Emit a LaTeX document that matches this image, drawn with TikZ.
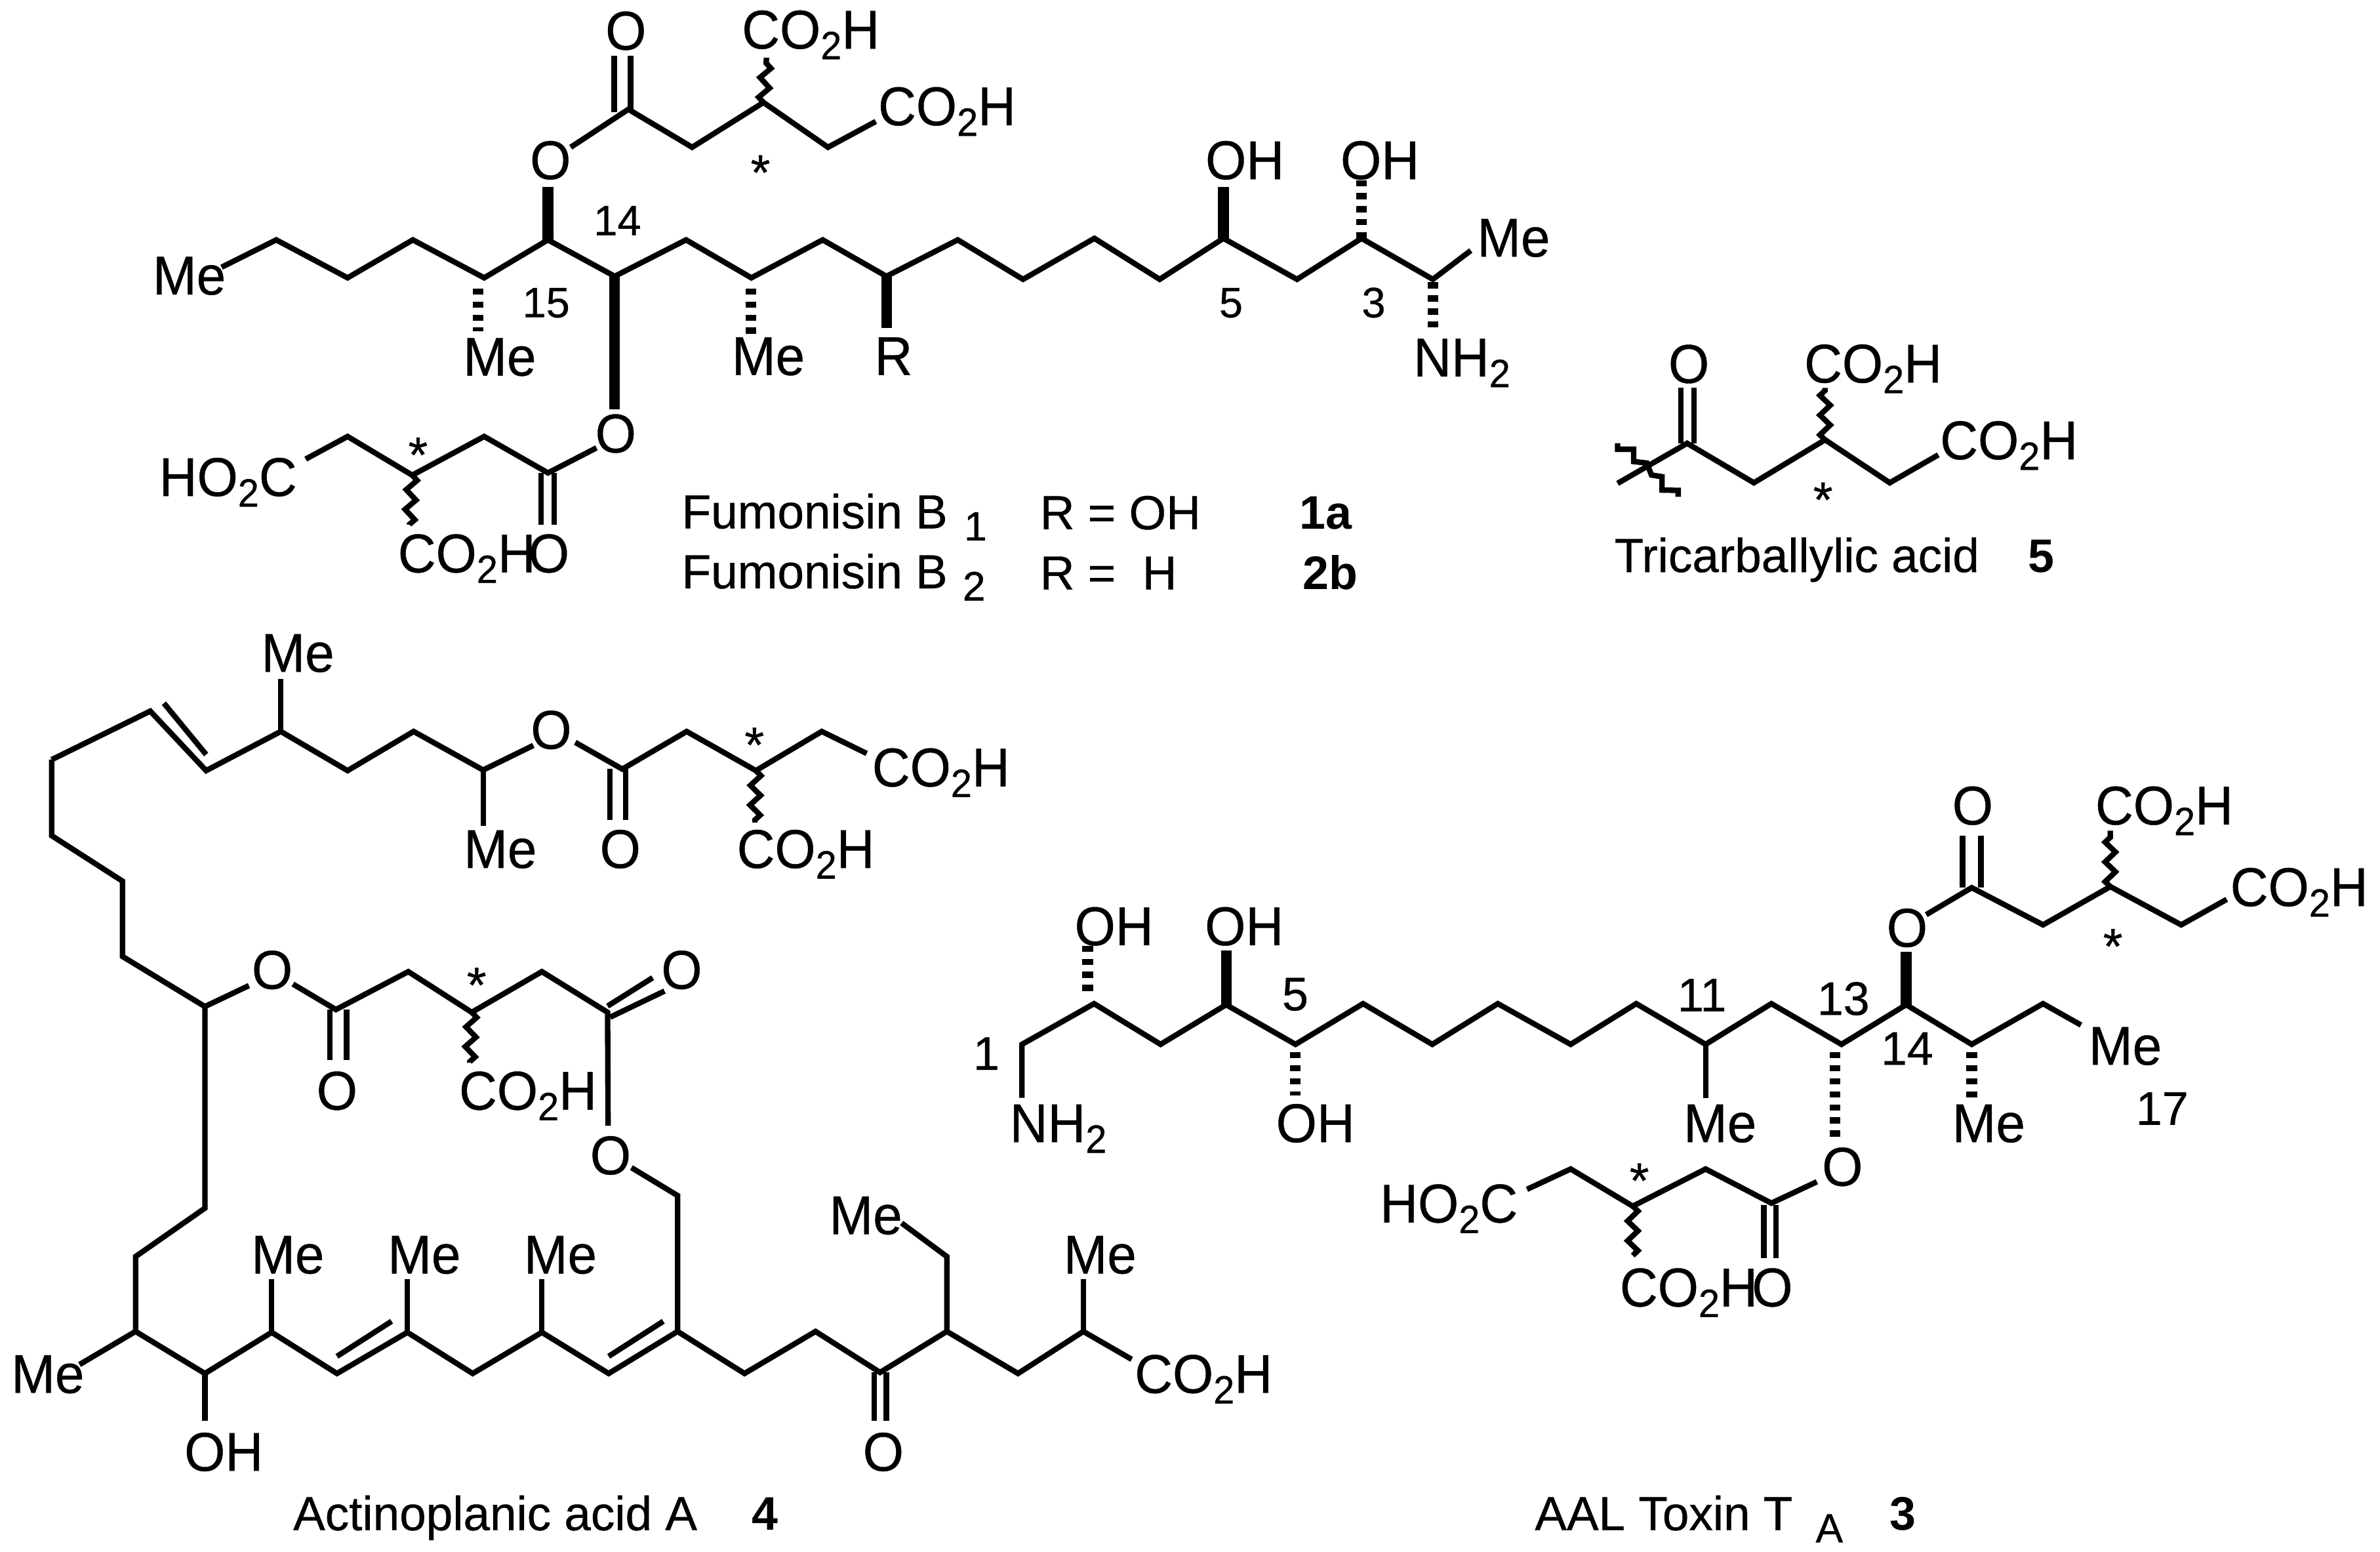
\documentclass[tikz,border=0pt]{standalone}
\usepackage{fontspec}
\usetikzlibrary{decorations.pathmorphing}
\setmainfont{Liberation Sans}
\newfontfamily\fatfont[FakeBold=0.5]{Liberation Sans}
\newcommand{\subd}[1]{\raisebox{-7pt}{\fontsize{26}{26}\selectfont #1}}
\tikzset{
  bond/.style={draw=black,line width=3.6pt,line join=miter},
  boldbond/.style={draw=black,line width=7pt},
  hashbond/.style={draw=black,line width=7pt,dash pattern=on 4pt off 4.6pt},
  wavybond/.style={draw=black,line width=3.6pt,decorate,decoration={zigzag,segment length=13pt,amplitude=3.4pt}},
  atom/.style={anchor=base west,inner sep=0pt,transform shape,xscale=.96,font=\fatfont\fontsize{36}{36}\selectfont},
  num/.style={anchor=base west,inner sep=0pt,font=\fatfont\fontsize{28}{28}\selectfont},
  numbig/.style={anchor=base west,inner sep=0pt,font=\fatfont\fontsize{31}{31}\selectfont},
  starmark/.style={anchor=base,inner sep=0pt,font=\fatfont\fontsize{33}{33}\selectfont},
  caption/.style={anchor=base west,inner sep=0pt,font=\fatfont\fontsize{31.5}{31.5}\selectfont},
  capsub/.style={anchor=base west,inner sep=0pt,font=\fatfont\fontsize{27}{27}\selectfont},
  capbold/.style={anchor=base west,inner sep=0pt,font=\fontsize{31}{31}\selectfont\bfseries}
}
\begin{document}
\begin{tikzpicture}[x=1pt,y=-1pt]
\useasboundingbox (0,0) rectangle (1568,1022);
\fill[white] (0,0) rectangle (1568,1022);
% ---------- Fumonisin: backbone
\path (146,176) coordinate (fa0) (182,158) coordinate (fa1) (229,183) coordinate (fa2)
 (272,158) coordinate (fa3) (319,183) coordinate (fa4) (361,158) coordinate (fa5)
 (405,182) coordinate (fa6) (452,158) coordinate (fa7) (495,183) coordinate (fa8)
 (542,158) coordinate (fa9) (584,182) coordinate (fa10) (631,158) coordinate (fa11)
 (674,184) coordinate (fa12) (721,157) coordinate (fa13) (764,184) coordinate (fa14)
 (806,157) coordinate (fa15) (854.5,184) coordinate (fa16) (897,157) coordinate (fa17)
 (944,184) coordinate (fa18) (969,165) coordinate (fa19);
\draw[bond] (fa0)--(fa1)--(fa2)--(fa3)--(fa4)--(fa5)--(fa6)--(fa7)--(fa8)--(fa9)--(fa10)--(fa11)--(fa12)--(fa13)--(fa14)--(fa15)--(fa16)--(fa17)--(fa18)--(fa19);
\node[atom] (fMeL) at (100.5,194) {Me};
\node[atom] (fMeR) at (973,169) {Me};
\path (806,123) coordinate (fh5) (897,119) coordinate (fh3) (897,157) coordinate (fh3s)
 (944,186) coordinate (fn0) (944,218) coordinate (fn1);
\draw[boldbond] (fa15)--(fh5);
\draw[hashbond] (fh3s)--(fh3);
\draw[hashbond] (fn0)--(fn1);
\node[atom] (fOH5) at (794,118) {OH};
\node[atom] (fOH3) at (883,118) {OH};
\node[atom] (fNH2) at (931,248) {NH\subd{2}};
\node[num] (fn5) at (803,209) {5};
\node[num] (fn3) at (897,209) {3};
\node[num] (fn14) at (391,155) {14};
\node[num] (fn15) at (344,209) {15};
% substituents on the backbone
\path (315,190) coordinate (fm0) (315,218) coordinate (fm1) (494.6,190) coordinate (fm2) (494.6,221) coordinate (fm3)
 (584,216) coordinate (fr) (361,123) coordinate (fo1) (404.7,269.7) coordinate (fo2) (404.7,180) coordinate (fo2s) (584,180) coordinate (frs);
\draw[hashbond] (fm0)--(fm1);
\draw[hashbond] (fm2)--(fm3);
\draw[boldbond] (frs)--(fr);
\draw[boldbond] (fa5)--(fo1);
\draw[boldbond] (fo2s)--(fo2);
\node[atom] (fMe15) at (305,247.4) {Me};
\node[atom] (fMe11) at (482,247) {Me};
\node[atom] (fR) at (576,247) {R};
% upper acyl
\node[atom] (fOu) at (349,118) {O};
\path (376,97) coordinate (fu0) (414,72) coordinate (fu1) (456,97) coordinate (fu2) (503,67.5) coordinate (fu3)
 (545.5,97) coordinate (fu4) (577,80) coordinate (fu5) (505,38) coordinate (fu6)
 (404.7,74) coordinate (fd1) (404.7,36.7) coordinate (fd2) (415.5,74) coordinate (fd3) (415.5,36.7) coordinate (fd4);
\draw[bond] (fu0)--(fu1)--(fu2)--(fu3)--(fu4)--(fu5);
\draw[bond] (fd1)--(fd2);
\draw[bond] (fd3)--(fd4);
\draw[wavybond] (fu3)--(fu6);
\node[atom] (fOd) at (398.7,32.7) {O};
\node[atom] (fCa) at (488.6,32) {CO\subd{2}H};
\node[atom] (fCb) at (578.4,82.5) {CO\subd{2}H};
\node[starmark] (fs1) at (501,125) {*};
% lower acyl
\node[atom] (fOl) at (392,298) {O};
\path (393,295) coordinate (fl0) (361,311.5) coordinate (fl1) (319,287.5) coordinate (fl2) (271.6,313) coordinate (fl3)
 (229,287.5) coordinate (fl4) (201.4,302.4) coordinate (fl5) (269.7,345.6) coordinate (fl6)
 (356.5,311.5) coordinate (fe1) (356.5,345.6) coordinate (fe2) (365,311.5) coordinate (fe3) (365,345.6) coordinate (fe4);
\draw[bond] (fl0)--(fl1)--(fl2)--(fl3)--(fl4)--(fl5);
\draw[bond] (fe1)--(fe2);
\draw[bond] (fe3)--(fe4);
\draw[wavybond] (fl3)--(fl6);
\node[atom] (fHO) at (104.7,326.7) {HO\subd{2}C};
\node[atom] (fOe) at (348,377) {O};
\node[atom] (fCc) at (262,377) {CO\subd{2}H};
\node[starmark] (fs2) at (275.4,311) {*};
% captions
\node[caption] (c1) at (449,348) {Fumonisin B};
\node[capsub] (c1s) at (635,356) {1};
\node[caption] (c2) at (449,387.5) {Fumonisin B};
\node[capsub] (c2s) at (634,395.5) {2};
\node[caption] (c3) at (685,348.6) {R = OH};
\node[caption] (c4) at (685,388.3) {R =\ \ H};
\node[capbold] (c5) at (856,348.6) {1a};
\node[capbold] (c6) at (858,388.3) {2b};
% ---------- Tricarballylic acid
\path (1065.7,318.4) coordinate (t0) (1111.5,292) coordinate (t1) (1155.5,318) coordinate (t2) (1202.4,289.7) coordinate (t3)
 (1245,318) coordinate (t4) (1277,299.6) coordinate (t5) (1202.4,255.5) coordinate (t6)
 (1107.4,292) coordinate (td1) (1107.4,255.5) coordinate (td2) (1116,292) coordinate (td3) (1116,255.5) coordinate (td4);
\draw[bond] (t0)--(t1)--(t2)--(t3)--(t4)--(t5);
\draw[bond] (td1)--(td2);
\draw[bond] (td3)--(td4);
\draw[wavybond] (t3)--(t6);
\path (1065.7,291.9) coordinate (w0) (1065.7,295.9) coordinate (w1) (1076.3,295.9) coordinate (w2) (1076.3,304) coordinate (w3)
 (1085,305) coordinate (w4) (1088,312.9) coordinate (w5) (1095,314) coordinate (w6) (1095,322.8) coordinate (w7)
 (1105.6,323) coordinate (w8) (1105.6,327.2) coordinate (w9);
\draw[bond] (w0)--(w1)--(w2)--(w3)--(w4)--(w5)--(w6)--(w7)--(w8)--(w9);
\node[atom] (tO) at (1099,252.2) {O};
\node[atom] (tCa) at (1188.5,252) {CO\subd{2}H};
\node[atom] (tCb) at (1278,302.5) {CO\subd{2}H};
\node[starmark] (ts) at (1201,340.5) {*};
\node[caption] (tc) at (1063.4,376.8) {Tricarballylic acid};
\node[capbold] (tn) at (1336,376.8) {5};
% ---------- Actinoplanic acid: top arm
\node[atom] (aMe1) at (172,442.5) {Me};
\path (185,447) coordinate (am0) (34,500.4) coordinate (a0) (99,468.4) coordinate (a1) (135.8,507.6) coordinate (a2)
 (185,481.8) coordinate (a3) (229,507.6) coordinate (a4) (272.5,481.8) coordinate (a5) (318.3,507.2) coordinate (a6)
 (351.4,491) coordinate (a7) (108,463.2) coordinate (ad1) (135.8,497) coordinate (ad2) (318.3,543.8) coordinate (am1);
\draw[bond] (a0)--(a1)--(a2)--(a3)--(a4)--(a5)--(a6)--(a7);
\draw[bond] (ad1)--(ad2);
\draw[bond] (a3)--(am0);
\draw[bond] (a6)--(am1);
\node[atom] (aO1) at (349.5,493.2) {O};
\path (379,489) coordinate (b0) (410,506.6) coordinate (b1) (452.4,481.8) coordinate (b2) (498,507.6) coordinate (b3)
 (541.4,481.8) coordinate (b4) (571,496.3) coordinate (b5) (497.3,541.8) coordinate (b6)
 (401.7,506.6) coordinate (bd1) (401.7,540.3) coordinate (bd2) (412.2,506.6) coordinate (bd3) (412.2,540.3) coordinate (bd4);
\draw[bond] (b0)--(b1)--(b2)--(b3)--(b4)--(b5);
\draw[bond] (bd1)--(bd2);
\draw[bond] (bd3)--(bd4);
\draw[wavybond] (b3)--(b6);
\node[atom] (aCa) at (574.4,518) {CO\subd{2}H};
\node[atom] (aO2) at (395,571.7) {O};
\node[atom] (aMe2) at (305.4,571.7) {Me};
\node[atom] (aCb) at (485.3,571.7) {CO\subd{2}H};
\node[starmark] (as1) at (497,502) {*};
% left chain and middle arm
\path (34,550.4) coordinate (l1) (80.7,580.4) coordinate (l2) (80.7,630) coordinate (l3) (135,663) coordinate (l4) (164,649.2) coordinate (l5);
\draw[bond] (a0)--(l1)--(l2)--(l3)--(l4)--(l5);
\node[atom] (aO3) at (165.7,651.3) {O};
\path (193,648.2) coordinate (m0) (221.3,665) coordinate (m1) (269,640) coordinate (m2) (310.8,666.8) coordinate (m3)
 (357,640) coordinate (m4) (400.3,666.8) coordinate (m5) (309.5,700) coordinate (m6)
 (217.4,665) coordinate (md1) (217.4,698.2) coordinate (md2) (228.4,665) coordinate (md3) (228.4,698.2) coordinate (md4)
 (400.3,662.7) coordinate (me1) (430,644) coordinate (me2) (402,670) coordinate (me3) (437.8,652.8) coordinate (me4)
 (400.6,741.5) coordinate (m7);
\draw[bond] (m0)--(m1)--(m2)--(m3)--(m4)--(m5)--(m7);
\draw[bond] (md1)--(md2);
\draw[bond] (md3)--(md4);
\draw[bond] (me1)--(me2);
\draw[bond] (me3)--(me4);
\draw[wavybond] (m3)--(m6);
\node[atom] (aO4) at (208.4,730.9) {O};
\node[atom] (aCc) at (302.3,730.9) {CO\subd{2}H};
\node[starmark] (as2) at (314,660.2) {*};
\node[atom] (aO5) at (435.5,651.3) {O};
\node[atom] (aO6) at (388.6,773.5) {O};
% lower chain
\path (416,769.1) coordinate (n0) (446.4,787.5) coordinate (n1) (446.4,877) coordinate (n2)
 (135,795.8) coordinate (k1) (89.3,827.7) coordinate (k2) (89.3,877) coordinate (k3) (52.4,898.8) coordinate (k4)
 (135,904.7) coordinate (k5) (135,935.9) coordinate (k6) (179,877.6) coordinate (k7) (179,842.7) coordinate (k8)
 (222,904.7) coordinate (k9) (268.4,877.6) coordinate (k10) (268.4,842.7) coordinate (k11) (311.4,904.7) coordinate (k12)
 (357,877.6) coordinate (k13) (357,842.7) coordinate (k14) (401,904.7) coordinate (k15)
 (490.5,904.7) coordinate (k16) (537.3,877) coordinate (k17) (579.8,904) coordinate (k18) (623.8,877) coordinate (k19)
 (670.7,904.7) coordinate (k20) (713.7,877) coordinate (k21) (745.6,895.4) coordinate (k22) (713.7,842.7) coordinate (k23)
 (222,893.4) coordinate (kd1) (258,870.3) coordinate (kd2) (401,893.4) coordinate (kd3) (437,870.3) coordinate (kd4)
 (576,904) coordinate (kd5) (576,935.9) coordinate (kd6) (584,904) coordinate (kd7) (584,935.9) coordinate (kd8)
 (623.8,827.7) coordinate (k24) (594,805.6) coordinate (k25);
\draw[bond] (n0)--(n1)--(n2);
\draw[bond] (l4)--(k1)--(k2)--(k3)--(k5)--(k7)--(k9)--(k10)--(k12)--(k13)--(k15)--(n2)--(k16)--(k17)--(k18)--(k19)--(k20)--(k21)--(k22);
\draw[bond] (k3)--(k4);
\draw[bond] (k5)--(k6);
\draw[bond] (k7)--(k8);
\draw[bond] (k10)--(k11);
\draw[bond] (k13)--(k14);
\draw[bond] (k21)--(k23);
\draw[bond] (kd1)--(kd2);
\draw[bond] (kd3)--(kd4);
\draw[bond] (kd5)--(kd6);
\draw[bond] (kd7)--(kd8);
\draw[bond] (k19)--(k24)--(k25);
\node[atom] (aMe3) at (7.3,917.5) {Me};
\node[atom] (aOH) at (121.3,968.8) {OH};
\node[atom] (aMe4) at (165.4,838.8) {Me};
\node[atom] (aMe5) at (255.3,838.8) {Me};
\node[atom] (aMe6) at (345,838.8) {Me};
\node[atom] (aCd) at (747.4,917.5) {CO\subd{2}H};
\node[atom] (aMe7) at (700.5,838.8) {Me};
\node[atom] (aO7) at (568.3,968.8) {O};
\node[atom] (aMe8) at (546.2,812.9) {Me};
\node[caption] (ac) at (193,1007.9) {Actinoplanic acid A};
\node[capbold] (an) at (495,1007.9) {4};
% ---------- AAL toxin
\path (673.3,723.1) coordinate (x0) (673.3,687.9) coordinate (x1) (720.8,661.1) coordinate (x2) (764.6,687.9) coordinate (x3)
 (807.8,661.8) coordinate (x4) (853.5,687.9) coordinate (x5) (898,661.1) coordinate (x6) (943.6,687.9) coordinate (x7)
 (986.8,661.1) coordinate (x8) (1034.8,687.9) coordinate (x9) (1078,661.1) coordinate (x10) (1123.7,687.9) coordinate (x11)
 (1167,661.1) coordinate (x12) (1213.2,687.9) coordinate (x13) (1255.8,661.8) coordinate (x14) (1299,687.9) coordinate (x15)
 (1346,661.1) coordinate (x16) (1371,675.2) coordinate (x17);
\draw[bond] (x0)--(x1)--(x2)--(x3)--(x4)--(x5)--(x6)--(x7)--(x8)--(x9)--(x10)--(x11)--(x12)--(x13)--(x14)--(x15)--(x16)--(x17);
\path (716.6,652.7) coordinate (y0) (716.6,622.6) coordinate (y1) (807.8,625.9) coordinate (y2) (853.5,693) coordinate (y3)
 (853.5,721.4) coordinate (y4) (1123.7,723.1) coordinate (y5) (1209,693) coordinate (y6) (1209,750) coordinate (y7)
 (1255.8,627) coordinate (y8) (1299,693) coordinate (y9) (1299,724.8) coordinate (y10);
\draw[hashbond] (y0)--(y1);
\draw[boldbond] (x4)--(y2);
\draw[hashbond] (y3)--(y4);
\draw[bond] (x11)--(y5);
\draw[hashbond] (y6)--(y7);
\draw[boldbond] (x14)--(y8);
\draw[hashbond] (y9)--(y10);
\node[atom] (xNH) at (665.1,752.3) {NH\subd{2}};
\node[numbig] (xn1) at (641,704.7) {1};
\node[atom] (xOH1) at (707.8,622.6) {OH};
\node[atom] (xOH2) at (793.6,622.6) {OH};
\node[numbig] (xn5) at (844.5,665.5) {5};
\node[atom] (xOH3) at (840.5,752.3) {OH};
\node[numbig] (xn11) at (1105,666.1) {11};
\node[atom] (xMe1) at (1109,752.3) {Me};
\node[numbig] (xn13) at (1197,668.5) {13};
\node[numbig] (xn14) at (1239,701.3) {14};
\node[atom] (xO1) at (1200.2,781) {O};
\node[atom] (xO2) at (1242.8,623.6) {O};
\node[atom] (xMe2) at (1286,752.3) {Me};
\node[atom] (xMe3) at (1376,701.3) {Me};
\node[numbig] (xn17) at (1407,740.9) {17};
% upper acyl
\path (1269,602.5) coordinate (p0) (1299,584.7) coordinate (p1) (1346,609.2) coordinate (p2) (1390.3,584) coordinate (p3)
 (1437,609.2) coordinate (p4) (1467,592.4) coordinate (p5) (1390.3,547.2) coordinate (p6)
 (1293,584.7) coordinate (pd1) (1293,550.5) coordinate (pd2) (1305,584.7) coordinate (pd3) (1305,550.5) coordinate (pd4);
\draw[bond] (p0)--(p1)--(p2)--(p3)--(p4)--(p5);
\draw[bond] (pd1)--(pd2);
\draw[bond] (pd3)--(pd4);
\draw[wavybond] (p3)--(p6);
\node[atom] (xO3) at (1286,543.1) {O};
\node[atom] (xCa) at (1380.3,543.1) {CO\subd{2}H};
\node[atom] (xCb) at (1469.2,596.8) {CO\subd{2}H};
\node[starmark] (xs1) at (1392,634.7) {*};
% lower acyl
\path (1197,778.4) coordinate (q0) (1167,792.5) coordinate (q1) (1123.7,770) coordinate (q2) (1075.7,794.5) coordinate (q3)
 (1034.8,770) coordinate (q4) (1006,783.4) coordinate (q5) (1075.7,827) coordinate (q6)
 (1162,793.5) coordinate (qd1) (1162,828.7) coordinate (qd2) (1170,793.5) coordinate (qd3) (1170,828.7) coordinate (qd4);
\draw[bond] (q0)--(q1)--(q2)--(q3)--(q4)--(q5);
\draw[bond] (qd1)--(qd2);
\draw[bond] (qd3)--(qd4);
\draw[wavybond] (q3)--(q6);
\node[atom] (xHO) at (909,805.2) {HO\subd{2}C};
\node[atom] (xO4) at (1154,860.5) {O};
\node[atom] (xCc) at (1067,860.5) {CO\subd{2}H};
\node[starmark] (xs2) at (1080,789) {*};
\node[caption] (xc) at (1011,1007.9) {AAL Toxin T};
\node[capsub] (xcs) at (1196,1016) {A};
\node[capbold] (xcn) at (1245,1007.9) {3};
\end{tikzpicture}
\end{document}
